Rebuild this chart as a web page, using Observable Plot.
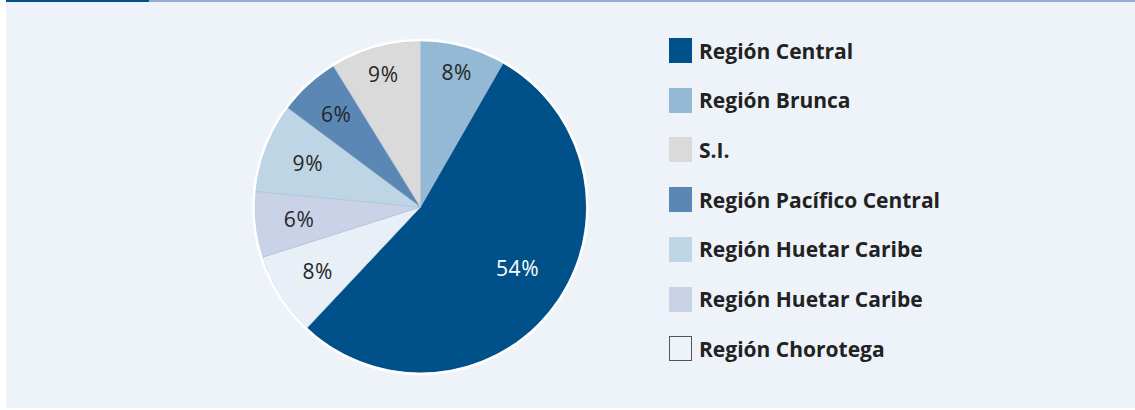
<!DOCTYPE html>
<html>
<head>
<meta charset="utf-8">
<script src="https://cdn.jsdelivr.net/npm/d3@7"></script>
<script src="https://cdn.jsdelivr.net/npm/@observablehq/plot@0.6"></script>
<style>
  html, body { margin: 0; padding: 0; background: #ffffff; }
  #wrap { position: relative; width: 1135px; height: 410px; overflow: hidden; }
  #panel { position: absolute; left: 6px; top: 0; width: 1129px; height: 408px; background: #eef3fa; }
  #bar1 { position: absolute; left: 6px; top: 0; width: 143px; height: 2px; background: #00508a; }
  #bar2 { position: absolute; left: 149px; top: 0; width: 986px; height: 2px; background: #93acd0; }
  #chart { position: absolute; left: 0; top: 0; }
  #legend { position: absolute; left: 669px; top: 38px; font-family: "Open Sans", sans-serif; font-weight: 700; font-size: 21px; color: #222222; }
  .row { position: absolute; left: 0; height: 25px; display: flex; align-items: center; white-space: nowrap; }
  .sw { width: 23px; height: 25px; box-sizing: border-box; margin-right: 7px; flex: none; }
</style>
</head>
<body>
<div id="wrap">
  <div id="panel"><div id="chart"></div></div>
  <div id="bar1"></div>
  <div id="bar2"></div>
  <div id="legend"></div>
</div>
<script>
// ---- data (clockwise from 12 o'clock) ----
const keys   = ["brunca", "central", "chorotega", "huetar2", "huetar1", "pacifico", "si"];
const names  = ["Región Brunca", "Región Central", "Región Chorotega", "Región Huetar Caribe", "Región Huetar Caribe", "Región Pacífico Central", "S.I."];
const values = [8.3, 53.7, 8.1, 6.4, 8.7, 6.0, 8.8];
const labels = ["8%", "54%", "8%", "6%", "9%", "6%", "9%"];
// legend order
const legendOrder = ["central", "brunca", "si", "pacifico", "huetar1", "huetar2", "chorotega"];
// colours
const colorDomain = ["central", "brunca", "si", "pacifico", "huetar1", "huetar2", "chorotega"];
const colorRange  = ["#00518a", "#93b9d5", "#dadada", "#5b87b5", "#bdd5e5", "#c9d2e6", "#e8eff6"];

const color = Plot.scale({color: {type: "ordinal", domain: colorDomain, range: colorRange}});

const rows = keys.map((k, i) => ({key: k, name: names[i], value: values[i], label: labels[i]}));
const arcs = d3.pie().sort(null).value(d => d.value)(rows);

// label anchor positions (unit circle coordinates), derived from slice angles
const R = 166;
const labelRows = arcs.map(a => {
  const t = (a.startAngle + a.endAngle) / 2 - (a.data.value > 25 ? 0.07 : 0);
  const s = Math.abs(Math.sin(t)), c = Math.abs(Math.cos(t));
  const rf = a.data.value > 25 ? 0.69 : (163 - 39 * s - 15 * c) / R;
  return {
    label: a.data.label,
    key: a.data.key,
    x: Math.sin(t) * rf,
    y: Math.cos(t) * rf
  };
});

function pieMark(index, scales) {
  const cx = scales.x(0), cy = scales.y(0), r = scales.x(1) - cx;
  const arc = d3.arc().innerRadius(0).outerRadius(r);
  const g = d3.create("svg:g").attr("transform", `translate(${cx},${cy})`);
  g.selectAll("path").data(arcs).join("path")
    .attr("d", arc)
    .attr("fill", d => color.apply(d.data.key))
    .attr("stroke", "#a9bfd8")
    .attr("stroke-width", 0.6)
    .attr("stroke-linejoin", "round");
  g.append("circle").attr("r", r + 1).attr("fill", "none")
    .attr("stroke", "#ffffff").attr("stroke-width", 2.5);
  return g.node();
}

const cxp = 414.5, cyp = 207;
const chart = Plot.plot({
  width: 1129,
  height: 408,
  margin: 0,
  x: {type: "linear", domain: [-1, 1], range: [cxp - R, cxp + R], axis: null},
  y: {type: "linear", domain: [-1, 1], range: [cyp + R, cyp - R], axis: null},
  style: {background: "transparent", overflow: "visible"},
  marks: [
    pieMark,
    Plot.text(labelRows, {
      x: "x", y: "y", text: "label",
      fill: d => d.key === "central" ? "#ffffff" : "#262626",
      fontSize: 21,
      fontFamily: "Open Sans, sans-serif",
      fontWeight: 400,
      textAnchor: "middle",
      lineAnchor: "middle"
    })
  ]
});
chart.querySelectorAll("text").forEach(t => t.setAttribute("letter-spacing", "0.6"));
document.getElementById("chart").appendChild(chart);

// legend
const leg = document.getElementById("legend");
legendOrder.forEach((k, i) => {
  const r = rows.find(d => d.key === k);
  const row = document.createElement("div");
  row.className = "row";
  row.style.top = (i * 49.7) + "px";
  const sw = document.createElement("div");
  sw.className = "sw";
  sw.style.background = k === "chorotega" ? "#eef3fa" : color.apply(k);
  if (k === "chorotega") { sw.style.border = "1px solid #555555"; }
  const tx = document.createElement("span");
  tx.textContent = r.name;
  row.appendChild(sw);
  row.appendChild(tx);
  leg.appendChild(row);
});
</script>
</body>
</html>
